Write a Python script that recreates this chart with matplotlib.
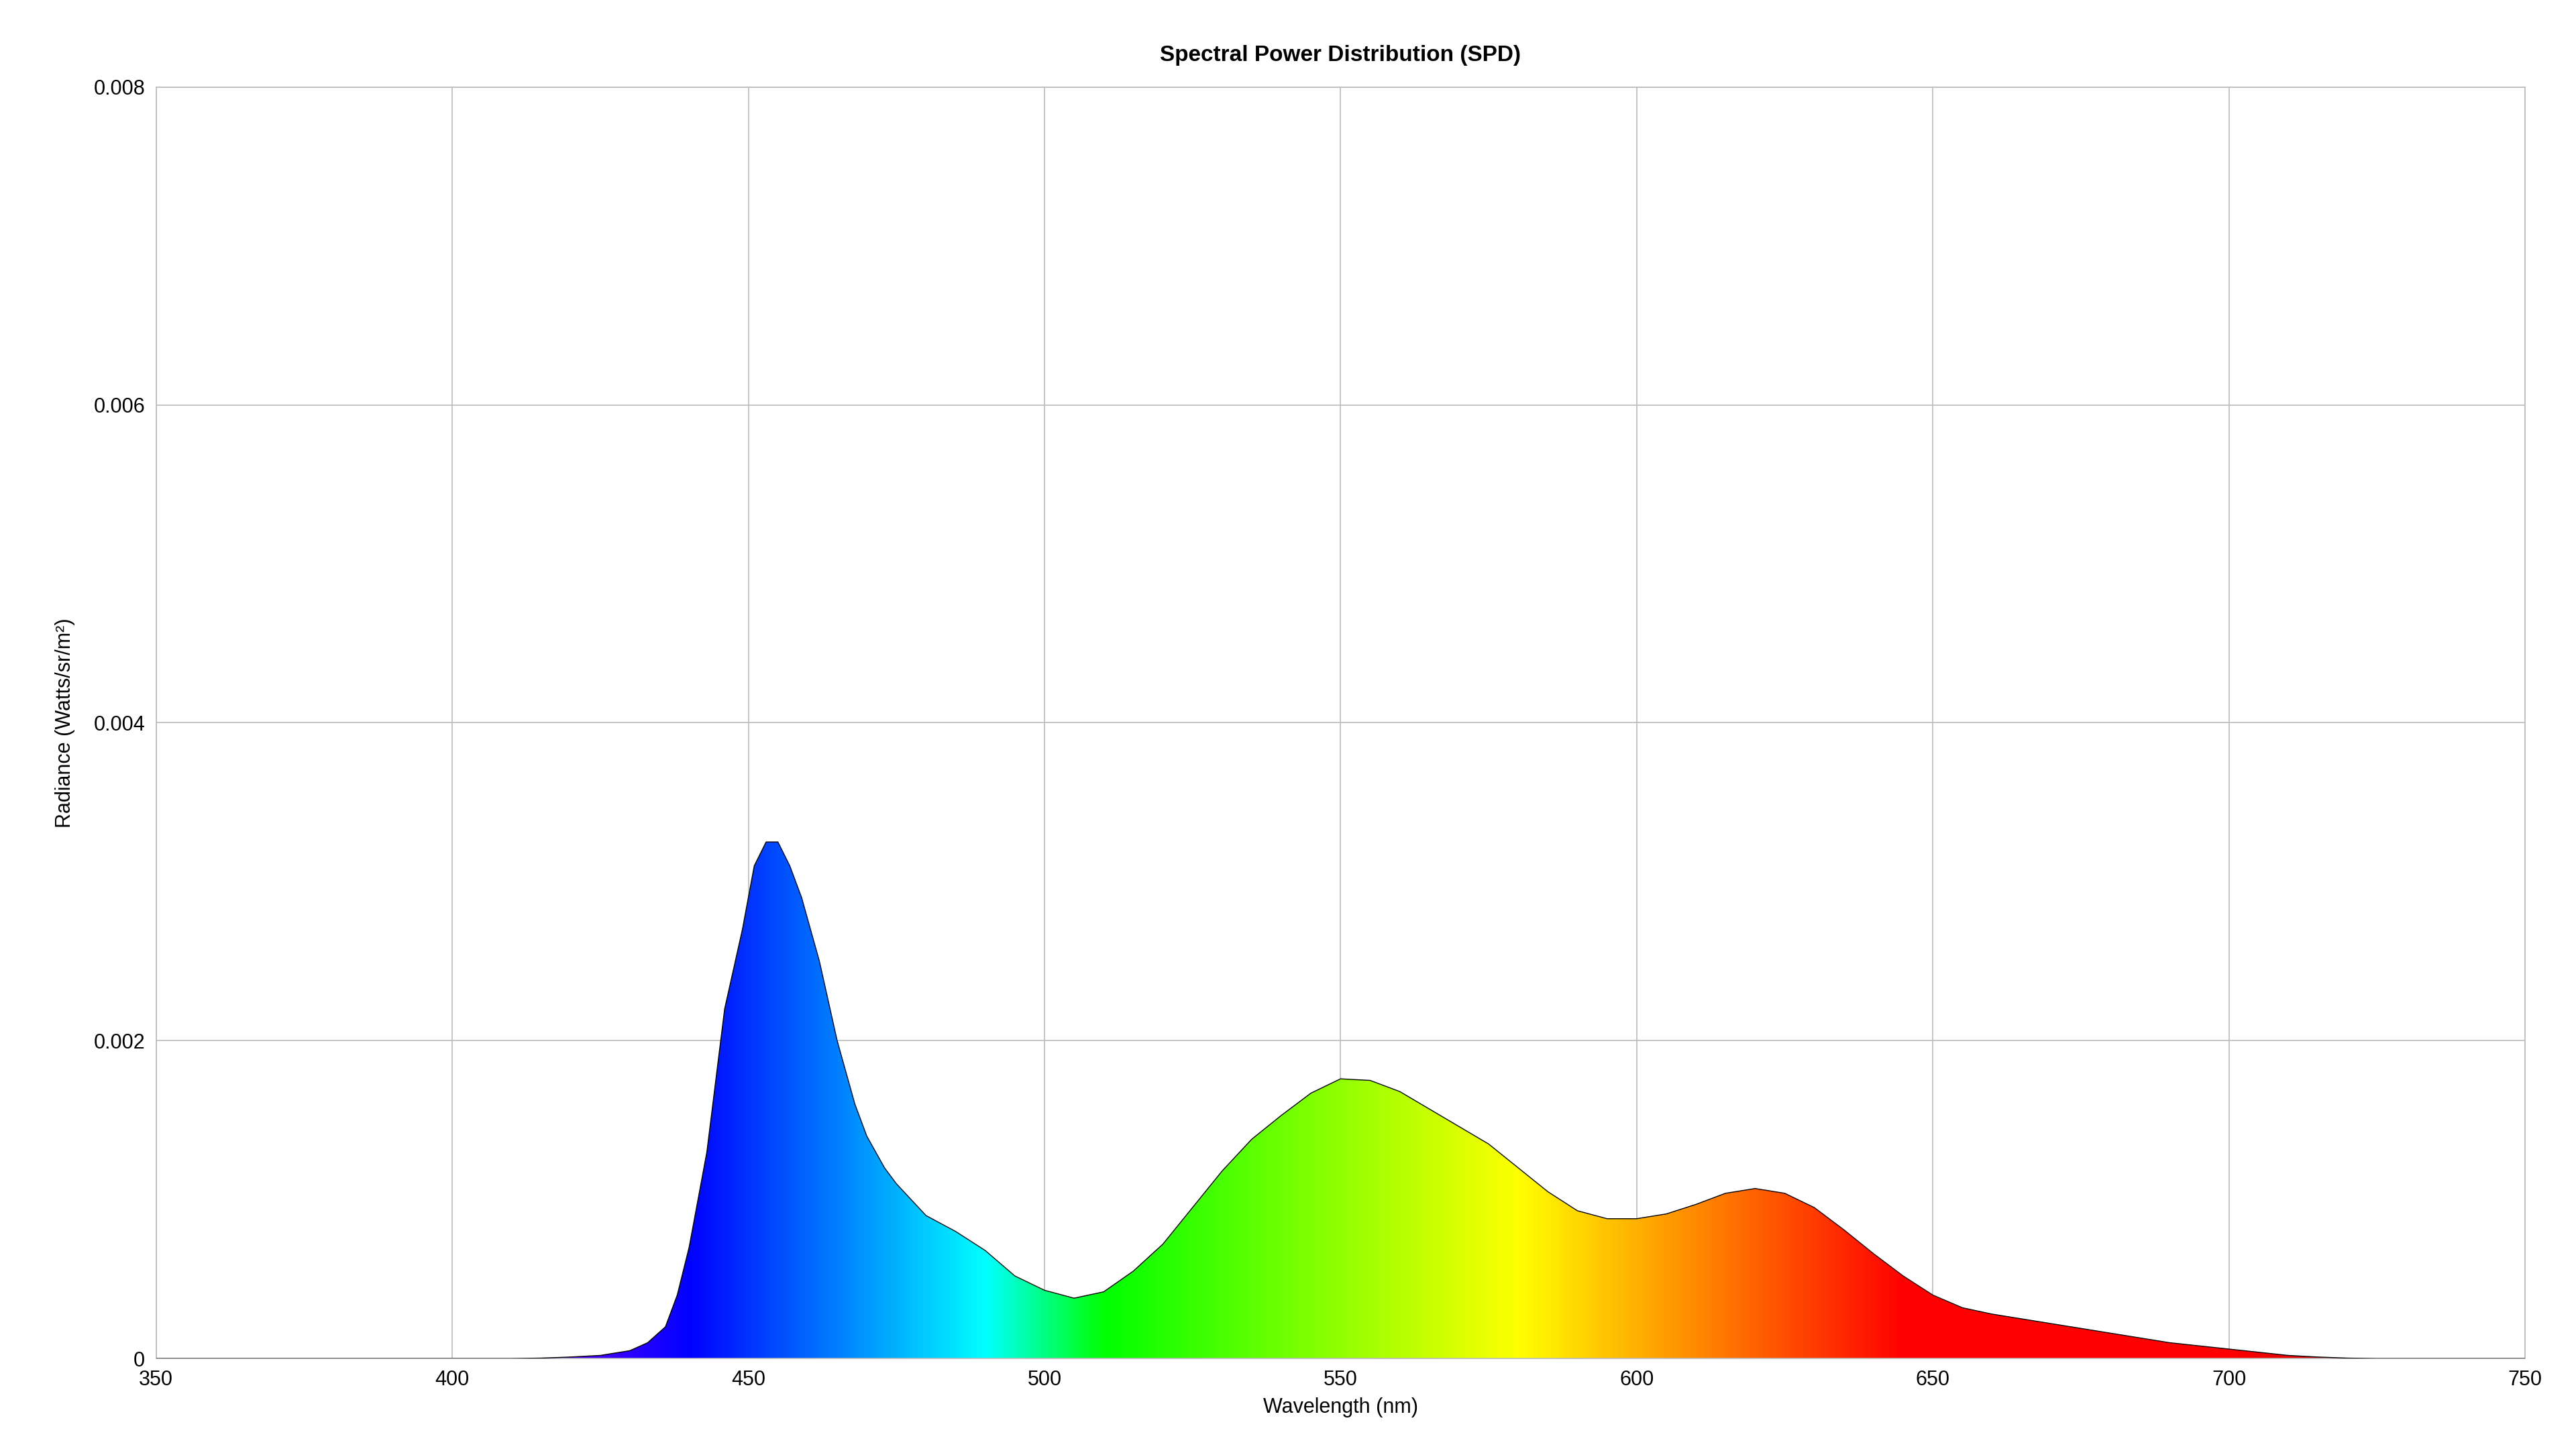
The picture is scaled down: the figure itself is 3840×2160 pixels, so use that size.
import numpy as np
import matplotlib.pyplot as plt
from matplotlib.patches import Polygon

plt.rcParams['font.family'] = ['Liberation Sans', 'DejaVu Sans']

wavelength = [350, 410, 415, 420, 425, 430, 433, 436, 438, 440, 443, 446, 449, 451, 453, 455,
              457, 459, 462, 465, 468, 470, 473, 475, 478, 480, 485, 490, 495, 500, 505, 510,
              515, 520, 525, 530, 535, 540, 545, 550, 555, 560, 565, 570, 575, 580, 585, 590,
              595, 600, 605, 610, 615, 620, 625, 630, 635, 640, 645, 650, 655, 660, 665, 670,
              675, 680, 685, 690, 695, 700, 705, 710, 715, 720, 725, 750]
radiance = [0, 0, 0.000003, 0.00001, 0.00002, 0.00005, 0.0001, 0.0002, 0.0004, 0.0007, 0.0013,
            0.0022, 0.0027, 0.0031, 0.00325, 0.00325, 0.0031, 0.0029, 0.0025, 0.0020, 0.0016,
            0.0014, 0.0012, 0.0011, 0.00098, 0.0009, 0.0008, 0.00068, 0.00052, 0.00043, 0.00038,
            0.00042, 0.00055, 0.00072, 0.00095, 0.00118, 0.00138, 0.00153, 0.00167, 0.00176,
            0.00175, 0.00168, 0.00157, 0.00146, 0.00135, 0.0012, 0.00105, 0.00093, 0.00088,
            0.00088, 0.00091, 0.00097, 0.00104, 0.00107, 0.00104, 0.00095, 0.00081, 0.00066,
            0.00052, 0.0004, 0.00032, 0.00028, 0.00025, 0.00022, 0.00019, 0.00016, 0.00013,
            0.0001, 0.00008, 0.00006, 0.00004, 0.00002, 0.00001, 0.000003, 0, 0]
x_ticks = [350, 400, 450, 500, 550, 600, 650, 700, 750]
y_ticks = [0, 0.002, 0.004, 0.006, 0.008]
y_labels = ['0', '0.002', '0.004', '0.006', '0.008']


def wl_to_rgb(w):
    if w < 440:
        r, g, b = -(w - 440) / (440 - 380), 0, 1
    elif w < 490:
        r, g, b = 0, (w - 440) / 50, 1
    elif w < 510:
        r, g, b = 0, 1, -(w - 510) / 20
    elif w < 580:
        r, g, b = (w - 510) / 70, 1, 0
    elif w < 645:
        r, g, b = 1, -(w - 645) / 65, 0
    else:
        r, g, b = 1, 0, 0
    if w < 420:
        f = 0.3 + 0.7 * (w - 380) / 40
    elif w > 700:
        f = 0.3 + 0.7 * (780 - w) / 80
    else:
        f = 1.0
    r, g, b = max(r, 0), max(g, 0), max(b, 0)
    return (r * f, g * f, b * f)


fig = plt.figure(figsize=(19.2, 10.8), dpi=200)
ax = fig.add_axes([0.0606, 0.0624, 0.9196, 0.8776])

grad_x = np.linspace(350, 750, 800)
grad = np.array([wl_to_rgb(w) for w in grad_x])[None, :, :]
im = ax.imshow(grad, extent=[350, 750, 0, 0.008], aspect='auto', origin='lower', zorder=2)
verts = list(zip(wavelength, radiance)) + [(750, 0), (350, 0)]
poly = Polygon(verts, closed=True, facecolor='none', edgecolor='none', transform=ax.transData)
ax.add_patch(poly)
im.set_clip_path(poly)
ax.plot(wavelength, radiance, color='black', lw=0.5, zorder=3)

ax.set_xlim(350, 750)
ax.set_ylim(0, 0.008)
ax.set_xticks(x_ticks)
ax.set_yticks(y_ticks)
ax.set_yticklabels(y_labels)
ax.grid(True, color='#bbbbbb', lw=0.6, zorder=0)
ax.set_axisbelow(True)
for s in ax.spines.values():
    s.set_color('#bbbbbb')
    s.set_linewidth(0.6)
ax.tick_params(labelsize=11, length=0, pad=6)
ax.set_xlabel('Wavelength (nm)', fontsize=11, labelpad=4)
ax.set_ylabel('Radiance (Watts/sr/m²)', fontsize=11, labelpad=10)
ax.set_title('Spectral Power Distribution (SPD)', fontsize=12, fontweight='bold', pad=14)

fig.savefig('out.png', dpi=200)
